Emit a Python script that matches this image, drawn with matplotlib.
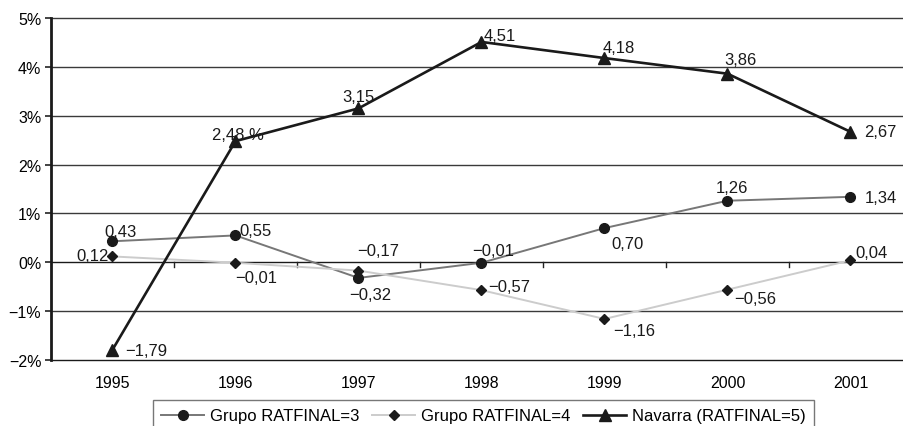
import matplotlib
matplotlib.use("Agg")
import matplotlib.pyplot as plt

plt.rcParams['font.family'] = ['Liberation Sans', 'DejaVu Sans']

years = ['1995', '1996', '1997', '1998', '1999', '2000', '2001']
grupo3 = [0.43, 0.55, -0.32, -0.01, 0.70, 1.26, 1.34]
grupo4 = [0.12, -0.01, -0.17, -0.57, -1.16, -0.56, 0.04]
navarra = [-1.79, 2.48, 3.15, 4.51, 4.18, 3.86, 2.67]
yticks = [-2, -1, 0, 1, 2, 3, 4, 5]
ytick_labels = ['\u22122%', '\u22121%', '0%', '1%', '2%', '3%', '4%', '5%']
legend_labels = ['Grupo RATFINAL=3', 'Grupo RATFINAL=4', 'Navarra (RATFINAL=5)']

def fmt(v):
    s = f"{abs(v):.2f}".replace('.', ',')
    return ('\u2212' + s) if v < 0 else s

fig = plt.figure(figsize=(9.04, 4.27), dpi=100)
ax = fig.add_axes([51/904, 66/427, 853/904, 342/427])

x = list(range(len(years)))
ax.set_ylim(-2, 5)
ax.set_xlim(-0.5, 6.5 - 8/123)

# gridlines
for yv in yticks:
    col = '#1a1a1a' if yv in (0, -2) else '#3a3a3a'
    ax.axhline(yv, color=col, lw=1.0, zorder=1, clip_on=False)

l3, = ax.plot(x, grupo3, color='#777777', lw=1.4, marker='o', ms=7,
              mfc='#1a1a1a', mec='#1a1a1a', zorder=3)
l4, = ax.plot(x, grupo4, color='#cccccc', lw=1.4, marker='D', ms=5,
              mfc='#1a1a1a', mec='#1a1a1a', zorder=3)
l5, = ax.plot(x, navarra, color='#1a1a1a', lw=1.9, marker='^', ms=8,
              mfc='#1a1a1a', mec='#1a1a1a', zorder=4)

# x ticks on the 0 line (category axis crosses at 0)
for xm in [0.5, 1.5, 2.5, 3.5, 4.5, 5.5]:
    ax.plot([xm, xm], [0, -0.1], color='#222222', lw=1.0, zorder=2)

ax.set_xticks(x)
ax.set_xticklabels(years)
ax.tick_params(axis='x', length=0, pad=11, labelsize=11.5)
ax.set_yticks(yticks)
ax.set_yticklabels(ytick_labels)
ax.tick_params(axis='y', length=4, width=1.2, color='#222222', labelsize=11.5, pad=3)

for s in ['top', 'right', 'bottom']:
    ax.spines[s].set_visible(False)
ax.spines['left'].set_linewidth(2)
ax.spines['left'].set_color('#1a1a1a')

fs = 12
# text-centre offsets in pixels (dx right, dy up)
nav_off = [(34, -1), (2, 7), (0, 12), (18, 6), (14, 11), (13, 14), (30, 0)]
g3_off = [(8, 10), (20, 5), (12, -17), (12, 12), (23, -15), (4, 13), (30, -1)]
g4_off = [(-20, 1), (21, -15), (20, 20), (28, 4), (30, -12), (28, -9), (21, 8)]

for series, offs in ((navarra, nav_off), (grupo3, g3_off), (grupo4, g4_off)):
    for xi, v, (dx, dy) in zip(x, series, offs):
        t = fmt(v)
        if series is navarra and xi == 1:
            t += ' %'
        ax.annotate(t, (xi, v), xytext=(dx, dy), textcoords='offset pixels',
                    ha='center', va='center', fontsize=fs, color='#1a1a1a', zorder=5)

leg = fig.legend([l3, l4, l5], legend_labels, loc='upper center',
                 bbox_to_anchor=(483.5/904, 26/427), ncol=3, fontsize=12,
                 frameon=True, fancybox=False, edgecolor='#555555',
                 handlelength=2.6, handletextpad=0.35, columnspacing=0.75,
                 borderpad=0.5, borderaxespad=0)
leg.get_frame().set_linewidth(1.0)

fig.savefig('out.png', dpi=100)
